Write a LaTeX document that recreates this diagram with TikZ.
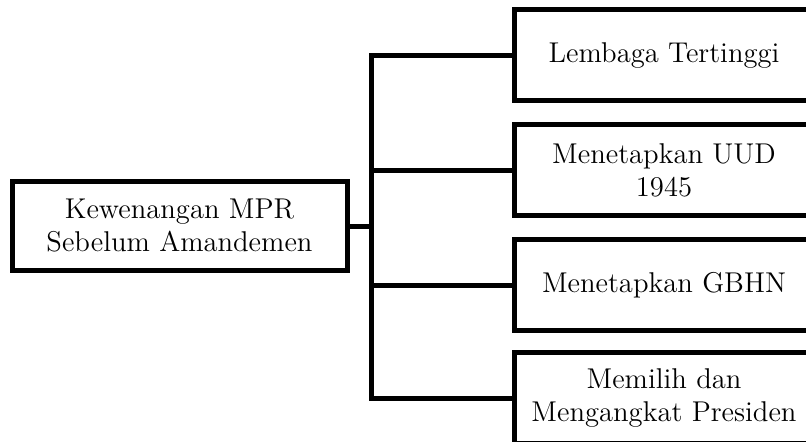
\documentclass[tikz,border=0pt]{standalone}
\usetikzlibrary{positioning}

\begin{document}
\begin{tikzpicture}[x=0.5pt,y=-0.5pt,line width=2.5pt,
    kotak/.style={draw,rectangle,inner sep=0pt,align=center,
        minimum width=150pt,minimum height=45.5pt,
        font=\fontsize{14.3}{16.5}\selectfont}]
\useasboundingbox (0,0) rectangle (806,441);

\node[kotak,minimum width=167.5pt,minimum height=44.5pt] (mpr) at (179.5,226) {Kewenangan MPR\\Sebelum Amandemen};

\node[kotak] (lembaga) at (664,55) {Lembaga Tertinggi};
\node[kotak] (uud) at (664,170) {Menetapkan UUD\\1945};
\node[kotak] (gbhn) at (664,285) {Menetapkan GBHN};
\node[kotak] (presiden) at (664,398) {Memilih dan\\Mengangkat Presiden};

\coordinate (cabang) at (371,226);

\draw (lembaga.west) -| (cabang) |- (presiden.west);
\draw (mpr.east) -- (cabang);
\draw (cabang |- uud.west) -- (uud.west);
\draw (cabang |- gbhn.west) -- (gbhn.west);

\end{tikzpicture}
\end{document}
